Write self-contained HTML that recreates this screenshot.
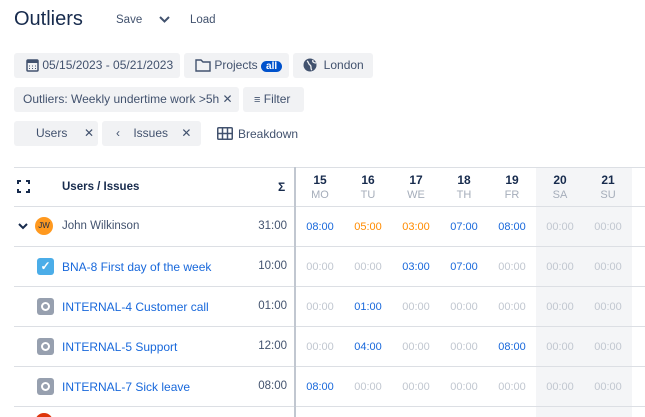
<!DOCTYPE html>
<html><head><style>
*{box-sizing:border-box;margin:0;padding:0}
html,body{width:645px;height:417px;overflow:hidden}
body{background:#fff;font-family:"Liberation Sans",sans-serif;color:#172b4d;position:relative}
.a{position:absolute;white-space:nowrap}
.btn{position:absolute;background:#f1f2f4;border-radius:3px;height:25px;font-size:12px;color:#42526e;line-height:25px}
.hl{position:absolute;left:14px;width:631px;height:1px;background:#dcdfe4}
.c{position:absolute;width:48px;text-align:center;font-size:11px}
.g{color:#c1c7d0}.b{color:#1868db}.o{color:#ff8b00}
.ic{position:absolute;left:37px;width:17px;height:17px;border-radius:3px;background:#97a0af}
.ic:after{content:"";position:absolute;left:4px;top:4px;width:9px;height:9px;border-radius:50%;border:2px solid #fff;box-sizing:border-box}
.t{position:absolute;left:62px;font-size:12px;color:#1868db}
.s{position:absolute;left:240px;width:47px;text-align:right;font-size:11.5px;color:#42526e}
</style></head><body>
<div class="a" style="left:14px;top:8px;font-size:20px;color:#172b4d">Outliers</div>
<div class="a" style="left:116px;top:14px;font-size:11.5px;color:#42526e">Save</div>
<svg class="a" style="left:159px;top:16px" width="11" height="8"><path d="M1 1l4.5 4.5L10 1" stroke="#42526e" stroke-width="2" fill="none"/></svg>
<div class="a" style="left:190px;top:14px;font-size:11.5px;color:#42526e">Load</div>

<div class="btn" style="left:14px;top:53px;width:166px;padding-left:12px"><svg style="vertical-align:-3px" width="13" height="14"><rect x="1" y="2" width="11" height="11" rx="1" fill="none" stroke="#42526e" stroke-width="1.5"/><rect x="1" y="2" width="11" height="3" fill="#42526e"/><path d="M3 8h1M6 8h1M9 8h1M3 10.5h1M6 10.5h1M9 10.5h1" stroke="#42526e"/></svg> 05/15/2023 - 05/21/2023</div>
<div class="btn" style="left:184px;top:53px;width:105px;padding-left:11px"><svg style="vertical-align:-3px" width="16" height="14"><path d="M1 2h5l2 2h7v9H1z" fill="none" stroke="#42526e" stroke-width="1.4"/></svg> Projects <span style="background:#0052cc;color:#fff;border-radius:8px;padding:0 5px;font-size:10px;font-weight:bold">all</span></div>
<div class="btn" style="left:293px;top:53px;width:80px;padding-left:10px"><svg style="vertical-align:-3px" width="14" height="14"><circle cx="7" cy="7" r="6.5" fill="#42526e"/><path d="M4 3c2 1 1 3 3 4s0 4 2 5M10 2c-1 2 1 3 3 3" stroke="#f1f2f4" stroke-width="1.3" fill="none"/></svg> &nbsp;London</div>

<div class="btn" style="left:14px;top:87px;width:225px;padding-left:9px">Outliers: Weekly undertime work &gt;5h ✕</div>
<div class="btn" style="left:243px;top:87px;width:61px;padding-left:11px"><span style="font-size:11px">≡</span> Filter</div>

<div class="btn" style="left:14px;top:121px;width:84px;padding-left:22px">Users &nbsp;&nbsp;&nbsp;&nbsp;✕</div>
<div class="btn" style="left:102px;top:121px;width:99px;padding-left:14px">‹ &nbsp;&nbsp;&nbsp;Issues &nbsp;&nbsp;&nbsp;✕</div>
<svg class="a" style="left:217px;top:127px" width="16" height="13"><rect x="0.75" y="0.75" width="14.5" height="11.5" rx="1" fill="none" stroke="#42526e" stroke-width="1.5"/><path d="M5.5 1v11M10.5 1v11M1 6.5h14" stroke="#42526e" stroke-width="1.5"/></svg>
<div class="a" style="left:238px;top:127px;font-size:12px;color:#42526e">Breakdown</div>

<div class="a" style="left:536px;top:167px;width:96px;height:250px;background:#f4f5f7"></div>
<div class="hl" style="top:167px"></div>
<div class="hl" style="top:206px"></div>
<div class="hl" style="top:246px"></div>
<div class="hl" style="top:286px"></div>
<div class="hl" style="top:326px"></div>
<div class="hl" style="top:366px"></div>
<div class="hl" style="top:406px"></div>
<div class="a" style="left:294px;top:167px;width:2px;height:250px;background:#c1c7d0"></div>

<svg class="a" style="left:17px;top:180px" width="13" height="13"><path d="M1 4V1h3M9 1h3v3M12 9v3H9M4 12H1V9" stroke="#172b4d" stroke-width="2" fill="none"/></svg>
<div class="a" style="left:62px;top:181px;font-size:11.5px;font-weight:bold">Users / Issues</div>
<div class="a" style="left:278px;top:180px;font-size:12px;font-weight:bold">Σ</div>

<div class="c" style="left:296px;top:173px;font-size:12px;font-weight:bold">15<br><span style="font-weight:normal;font-size:11px;color:#a5adba">MO</span></div>
<div class="c" style="left:344px;top:173px;font-size:12px;font-weight:bold">16<br><span style="font-weight:normal;font-size:11px;color:#a5adba">TU</span></div>
<div class="c" style="left:392px;top:173px;font-size:12px;font-weight:bold">17<br><span style="font-weight:normal;font-size:11px;color:#a5adba">WE</span></div>
<div class="c" style="left:440px;top:173px;font-size:12px;font-weight:bold">18<br><span style="font-weight:normal;font-size:11px;color:#a5adba">TH</span></div>
<div class="c" style="left:488px;top:173px;font-size:12px;font-weight:bold">19<br><span style="font-weight:normal;font-size:11px;color:#a5adba">FR</span></div>
<div class="c" style="left:536px;top:173px;font-size:12px;font-weight:bold">20<br><span style="font-weight:normal;font-size:11px;color:#a5adba">SA</span></div>
<div class="c" style="left:584px;top:173px;font-size:12px;font-weight:bold">21<br><span style="font-weight:normal;font-size:11px;color:#a5adba">SU</span></div>

<svg class="a" style="left:18px;top:223px" width="10" height="7"><path d="M1 1l4 4 4-4" stroke="#172b4d" stroke-width="2" fill="none"/></svg>
<div class="a" style="left:35px;top:217px;width:18px;height:18px;border-radius:50%;background:#ff991f;font-size:8px;line-height:18px;text-align:center;color:#172b4d">JW</div>
<div class="a" style="left:62px;top:220px;font-size:11.5px;color:#42526e">John Wilkinson</div>
<div class="s" style="top:220px">31:00</div>
<div class="c b" style="left:296px;top:221px">08:00</div><div class="c o" style="left:344px;top:221px">05:00</div><div class="c o" style="left:392px;top:221px">03:00</div><div class="c b" style="left:440px;top:221px">07:00</div><div class="c b" style="left:488px;top:221px">08:00</div><div class="c g" style="left:536px;top:221px">00:00</div><div class="c g" style="left:584px;top:221px">00:00</div>

<div class="a" style="left:37px;top:258px;width:17px;height:17px;border-radius:3px;background:#4bade8;color:#fff;font-size:12px;text-align:center;line-height:17px;font-weight:bold">✓</div>
<div class="t" style="top:260px">BNA-8 First day of the week</div>
<div class="s" style="top:260px">10:00</div>
<div class="c g" style="left:296px;top:261px">00:00</div><div class="c g" style="left:344px;top:261px">00:00</div><div class="c b" style="left:392px;top:261px">03:00</div><div class="c b" style="left:440px;top:261px">07:00</div><div class="c g" style="left:488px;top:261px">00:00</div><div class="c g" style="left:536px;top:261px">00:00</div><div class="c g" style="left:584px;top:261px">00:00</div>

<div class="ic" style="top:298px"></div>
<div class="t" style="top:300px">INTERNAL-4 Customer call</div>
<div class="s" style="top:300px">01:00</div>
<div class="c g" style="left:296px;top:301px">00:00</div><div class="c b" style="left:344px;top:301px">01:00</div><div class="c g" style="left:392px;top:301px">00:00</div><div class="c g" style="left:440px;top:301px">00:00</div><div class="c g" style="left:488px;top:301px">00:00</div><div class="c g" style="left:536px;top:301px">00:00</div><div class="c g" style="left:584px;top:301px">00:00</div>

<div class="ic" style="top:338px"></div>
<div class="t" style="top:340px">INTERNAL-5 Support</div>
<div class="s" style="top:340px">12:00</div>
<div class="c g" style="left:296px;top:341px">00:00</div><div class="c b" style="left:344px;top:341px">04:00</div><div class="c g" style="left:392px;top:341px">00:00</div><div class="c g" style="left:440px;top:341px">00:00</div><div class="c b" style="left:488px;top:341px">08:00</div><div class="c g" style="left:536px;top:341px">00:00</div><div class="c g" style="left:584px;top:341px">00:00</div>

<div class="ic" style="top:378px"></div>
<div class="t" style="top:380px">INTERNAL-7 Sick leave</div>
<div class="s" style="top:380px">08:00</div>
<div class="c b" style="left:296px;top:381px">08:00</div><div class="c g" style="left:344px;top:381px">00:00</div><div class="c g" style="left:392px;top:381px">00:00</div><div class="c g" style="left:440px;top:381px">00:00</div><div class="c g" style="left:488px;top:381px">00:00</div><div class="c g" style="left:536px;top:381px">00:00</div><div class="c g" style="left:584px;top:381px">00:00</div>

<div class="a" style="left:35px;top:413px;width:18px;height:18px;border-radius:50%;background:#de350b"></div>
</body></html>
